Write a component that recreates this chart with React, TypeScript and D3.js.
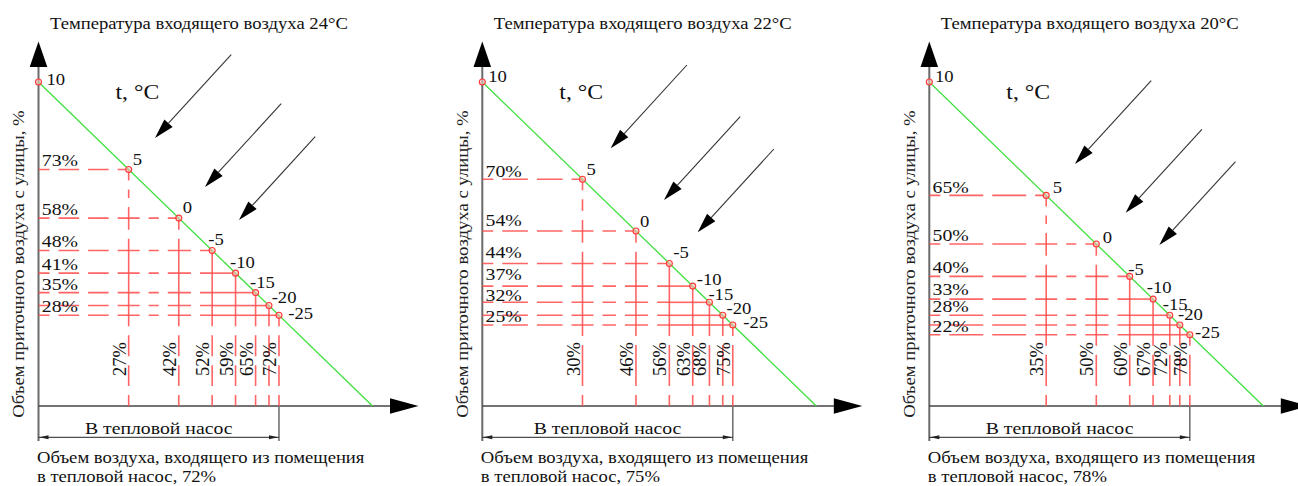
import React from "react";
import * as d3 from "d3";

// ---------- data ----------
const TEMPERATURES = [10, 5, 0, -5, -10, -15, -20, -25];
const INLET_TEMPS = [24, 22, 20];
// share of outdoor (supply) air, %, per outdoor temperature
const OUTDOOR_SHARE_24 = [100, 73, 58, 48, 41, 35, 31, 28];
const OUTDOOR_SHARE_22 = [100, 70, 54, 44, 37, 32, 28, 25];
const OUTDOOR_SHARE_20 = [100, 65, 50, 40, 33, 28, 25, 22];
// which points carry percentage labels (the -20 point is unlabeled)
const LABELED = [false, true, true, true, true, true, false, true];
const HEAT_PUMP_SHARE = [72, 75, 78];
const Y_LABEL = "Объем приточного воздуха с улицы, %";
const T_LABEL = "t, °C";
const DIM_LABEL = "В тепловой насос";
const BOTTOM_LINE_1 = "Объем воздуха, входящего из помещения";
const BOTTOM_LINE_2 = "в тепловой насос, ";
const TITLE_PREFIX = "Температура входящего воздуха ";

// ---------- layout ----------
const W = 1298;
const H = 486;
const AXIS_X = [38.5, 482.3, 929.3];
const Y0 = 406;
const Y100 = 82;
const X_SPAN = 334;
const FONT = "Liberation Serif";
const SX = 1.13;
// point label offsets (dx, dy) from point to label start/baseline
const LABEL_OFFSETS = [
  [[8, 3], [4, -4.5], [4, -5], [-4, -5.5], [-5.6, -5], [-5.6, -5], [2.7, -2.3], [9.3, 4]],
  [[6, 0], [4, -4], [4, -4.3], [4, -5], [4, -1], [-1, -2], [3.7, -1.3], [10.5, 3.3]],
  [[5.7, 0], [6.5, -2], [6.4, -0.7], [-1.4, -1.4], [-6.4, -5.8], [-7, -5.3], [-1.8, -5], [5.2, 3.6]],
];
// vertical offsets of the horizontal % labels above their guide line
const HLABEL_DY = [
  [0, -3, -3, -3, -3, -3, 0, -3],
  [0, -2.5, -5, -5, -6, -1.6, 0, -3.3],
  [0, -2.7, -3, -3, -4, -3, 0, -3],
];
// decorative wind arrows: tip positions
const ARROW_TIPS = [
  [[155, 138], [205, 187], [239, 220]],
  [[610.7, 148.3], [664, 200], [697.7, 232.3]],
  [[1075, 164], [1125.7, 212.7], [1159.3, 245]],
];
const ARROW_VEC = [76.2, -83.3];

const RED = "#ff4a4a";
const GREEN = "#3fe03f";

function T({ x, y, size, anchor, rot, sx, children, fill }: any) {
  const s = sx ?? SX;
  const tr = rot ? `translate(${x},${y}) rotate(${rot}) scale(${s},1)` : `translate(${x},${y}) scale(${s},1)`;
  return (
    <text transform={tr} textAnchor={anchor || "start"} fontFamily={FONT} fontSize={size} fill={fill || "#111"}>
      {children}
    </text>
  );
}

function dashFor(L: number, h = 11, g = 9, d = 26): string | undefined {
  if (L <= 2 * h + g) return undefined;
  const n = Math.max(0, Math.round((L - 2 * h - g) / (d + g)));
  if (n === 0) {
    const hh = (L - g) / 2;
    return `${hh} ${g} ${hh} 2000`;
  }
  const dd = (L - 2 * h - (n + 1) * g) / n;
  const parts: number[] = [h, g];
  for (let k = 0; k < n; k++) parts.push(dd, g);
  parts.push(h, 2000);
  return parts.join(" ");
}

function Segmented({ pts, horizontal, fixed }: { pts: number[]; horizontal: boolean; fixed: number }) {
  const segs = [];
  for (let k = 0; k < pts.length - 1; k++) {
    const a = pts[k];
    const b = pts[k + 1];
    const L = Math.abs(b - a);
    if (L < 0.5) continue;
    const da = dashFor(L);
    segs.push(
      horizontal ? (
        <line key={k} x1={a} x2={b} y1={fixed} y2={fixed} stroke={RED} strokeWidth={1.6} strokeOpacity={0.85} strokeDasharray={da} />
      ) : (
        <line key={k} x1={fixed} x2={fixed} y1={a} y2={b} stroke={RED} strokeWidth={1.6} strokeOpacity={0.85} strokeDasharray={da} />
      )
    );
  }
  return <g>{segs}</g>;
}

function Panel({ idx, outdoor, inletT, hp }: { idx: number; outdoor: number[]; inletT: number; hp: number }) {
  const ax = AXIS_X[idx];
  const x = d3.scaleLinear().domain([0, 100]).range([ax, ax + X_SPAN]);
  const y = d3.scaleLinear().domain([0, 100]).range([Y0, Y100]);
  const pts = outdoor.map((o, i) => ({ t: TEMPERATURES[i], o, r: 100 - o, px: x(100 - o), py: y(o), i }));
  const line = d3.line<[number, number]>()([[x(0), y(100)], [x(100), y(0)]]) || "";

  const hLines = pts.slice(1).map((p) => {
    const breaks = [ax, ...pts.slice(1, p.i).map((q) => q.px), p.px];
    return <Segmented key={"h" + p.i} pts={breaks} horizontal fixed={p.py} />;
  });
  const vLines = pts.slice(1).map((p) => {
    const breaks = [p.py, ...pts.slice(p.i + 1).map((q) => q.py), Y0];
    return <Segmented key={"v" + p.i} pts={breaks} horizontal={false} fixed={p.px} />;
  });

  const hpX = x(hp);
  const dimY = 437.3;

  return (
    <g>
      <T x={ax + 11.5} y={29} size={16.5}>{TITLE_PREFIX + inletT + "°C"}</T>
      {/* y axis */}
      <line x1={ax} x2={ax} y1={60} y2={441} stroke="#6a6a6a" strokeWidth={2} />
      <path d={`M${ax},41.5 L${ax - 8.8},67 L${ax + 8.8},67 Z`} fill="#000" />
      {/* x axis */}
      <line x1={ax} x2={ax + 360} y1={Y0} y2={Y0} stroke="#444" strokeWidth={1.5} />
      <path d={`M${ax + 380},${Y0} L${ax + 351.5},${Y0 - 7.8} L${ax + 351.5},${Y0 + 7.8} Z`} fill="#000" />
      <T x={ax - 14.5} y={264} rot={-90} anchor="middle" size={17} sx={1.1} fill="#222">{Y_LABEL}</T>
      <T x={ax + 77} y={98.5} size={21}>{T_LABEL}</T>
      {/* wind arrows */}
      {ARROW_TIPS[idx].map(([tx, ty], k) => {
        const [vx, vy] = ARROW_VEC;
        const len = Math.hypot(vx, vy);
        const ux = vx / len;
        const uy = vy / len;
        const hl = 20;
        const hw = 5.6;
        const bx = tx + ux * hl;
        const by = ty + uy * hl;
        return (
          <g key={k}>
            <line x1={tx + vx} y1={ty + vy} x2={bx} y2={by} stroke="#333" strokeWidth={1.1} />
            <path d={`M${tx},${ty} L${bx - uy * hw},${by + ux * hw} L${bx + uy * hw},${by - ux * hw} Z`} fill="#000" />
          </g>
        );
      })}
      {/* dashed guides */}
      {hLines}
      {vLines}
      {/* green line */}
      <path d={line} stroke={GREEN} strokeWidth={1.3} fill="none" />
      {/* points */}
      {pts.map((p) => (
        <circle key={"c" + p.i} cx={p.px} cy={p.py} r={3} fill="#ffc0c0" fillOpacity={0.6} stroke="#ff3a3a" strokeWidth={1.1} />
      ))}
      {pts.map((p) => (
        <T key={"t" + p.i} x={p.px + LABEL_OFFSETS[idx][p.i][0]} y={p.py + LABEL_OFFSETS[idx][p.i][1]} size={16.5}>
          {p.t}
        </T>
      ))}
      {/* percentage labels */}
      {pts.filter((p) => LABELED[p.i]).map((p) => (
        <T key={"hl" + p.i} x={ax + 3.3} y={p.py + HLABEL_DY[idx][p.i]} size={17.5}>
          {p.o + "%"}
        </T>
      ))}
      {pts.filter((p) => LABELED[p.i]).map((p) => (
        <T key={"vl" + p.i} x={p.px - 3} y={359} rot={-90} anchor="middle" size={18.5} sx={1}>
          {p.r + "%"}
        </T>
      ))}
      {/* dimension */}
      <line x1={hpX} x2={hpX} y1={Y0 + 1} y2={441} stroke="#6a6a6a" strokeWidth={1.5} />
      <line x1={ax} x2={hpX} y1={dimY} y2={dimY} stroke="#222" strokeWidth={1} />
      <path d={`M${ax + 1},${dimY} L${ax + 10},${dimY - 2} L${ax + 10},${dimY + 2} Z`} fill="#222" />
      <path d={`M${hpX - 1},${dimY} L${hpX - 10},${dimY - 2} L${hpX - 10},${dimY + 2} Z`} fill="#222" />
      <T x={(ax + hpX) / 2} y={434} anchor="middle" size={17.5}>{DIM_LABEL}</T>
      <T x={ax - 1.5} y={463.3} size={16.5}>{BOTTOM_LINE_1}</T>
      <T x={ax - 1.5} y={481.5} size={16.5}>{BOTTOM_LINE_2 + hp + "%"}</T>
    </g>
  );
}

export default function App() {
  const series = [OUTDOOR_SHARE_24, OUTDOOR_SHARE_22, OUTDOOR_SHARE_20];
  return (
    <svg width={W} height={H} style={{ position: "absolute", left: 0, top: 0, background: "#fff" }}>
      <rect width={W} height={H} fill="#fff" />
      {series.map((s, i) => (
        <Panel key={i} idx={i} outdoor={s} inletT={INLET_TEMPS[i]} hp={HEAT_PUMP_SHARE[i]} />
      ))}
    </svg>
  );
}
